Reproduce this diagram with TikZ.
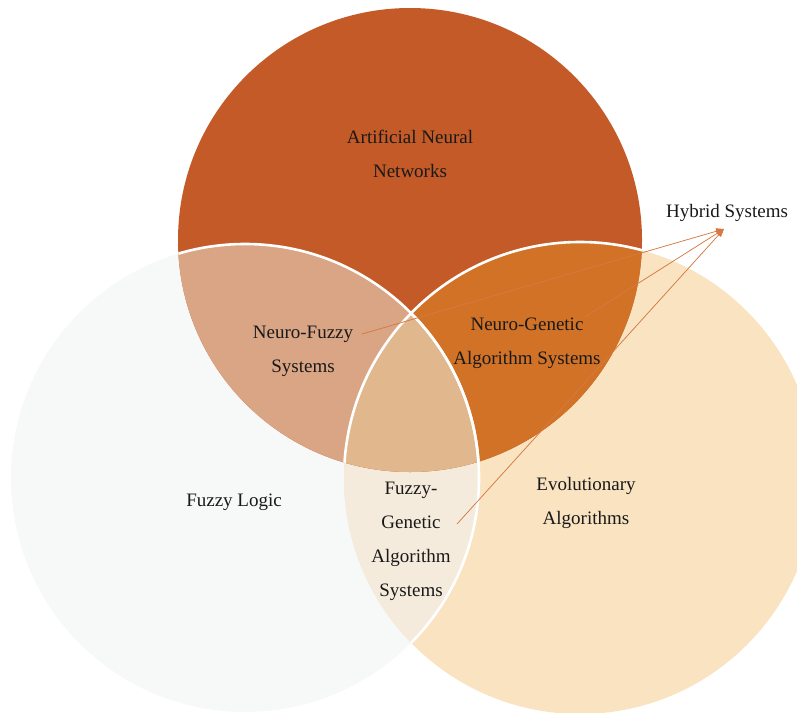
\documentclass[tikz,border=0pt]{standalone}
\usepackage{fontspec}
\setmainfont{Liberation Serif}
\usetikzlibrary{arrows.meta}

\definecolor{annC}{HTML}{C45A27}
\definecolor{fuzC}{HTML}{F7F8F8}
\definecolor{evoC}{HTML}{F9E3C1}
\definecolor{nfC}{HTML}{D9A584}
\definecolor{ngC}{HTML}{D17227}
\definecolor{fgaC}{HTML}{F5EBDC}
\definecolor{midC}{HTML}{E1B78D}
\definecolor{arrowC}{HTML}{D67A43}

\def\annc{(410,240) circle[radius=232pt]}
\def\fuzzyc{(245,478) circle[radius=234pt]}
\def\evoc{(580,478) circle[radius=236pt]}

\begin{document}
\begin{tikzpicture}[
    x=1pt, y=-1pt,
    lbl/.style={align=center, font=\fontsize{19}{34}\selectfont, text=black!90, inner sep=1pt},
    rim/.style={draw=white, line width=2.6pt},
    arrow/.style={-{Triangle[length=8pt,width=6pt]}, draw=arrowC, fill=arrowC, line width=0.7pt}
  ]
    \useasboundingbox (0,0) rectangle (797,712);
    \clip (0,0) rectangle (797,712);

    % the three sets
    \fill[fuzC] \fuzzyc;
    \fill[evoC] \evoc;
    \fill[annC] \annc;
    \begin{scope}
      \clip \fuzzyc;
      \fill[fgaC] \evoc;
    \end{scope}
    \begin{scope}
      \clip \annc;
      \fill[nfC] \fuzzyc;
      \fill[ngC] \evoc;
      \clip \fuzzyc;
      \fill[midC] \evoc;
    \end{scope}

    % white borders
    \begin{scope}
      \clip \annc;
      \draw[rim] \fuzzyc;
      \draw[rim] \evoc;
    \end{scope}
    \begin{scope}
      \clip \evoc;
      \draw[rim] \fuzzyc;
    \end{scope}

    \node[lbl] (ann) at (410,154) {Artificial Neural\\Networks};
    \node[lbl] (nf) at (303,351) {Neuro-Fuzzy\\Systems};
    \node[lbl] (ng) at (527,343) {Neuro-Genetic\\Algorithm Systems};
    \node[lbl] (fl) at (234,502) {Fuzzy Logic};
    \node[lbl] (ev) at (586,503) {Evolutionary\\Algorithms};
    \node[lbl] (fga) at (411,541) {Fuzzy-\\Genetic\\Algorithm\\Systems};
    \node[lbl] (hyb) at (727,213) {Hybrid Systems};

    \coordinate (hub) at (724,229);
    \coordinate (nfout) at (362,334);
    \coordinate (ngout) at (585,317);
    \coordinate (fgaout) at (457,524);
    \draw[arrow] (nfout) -- (hub);
    \draw[arrow] (ngout) -- (hub);
    \draw[arrow] (fgaout) -- (hub);
  \end{tikzpicture}
\end{document}
